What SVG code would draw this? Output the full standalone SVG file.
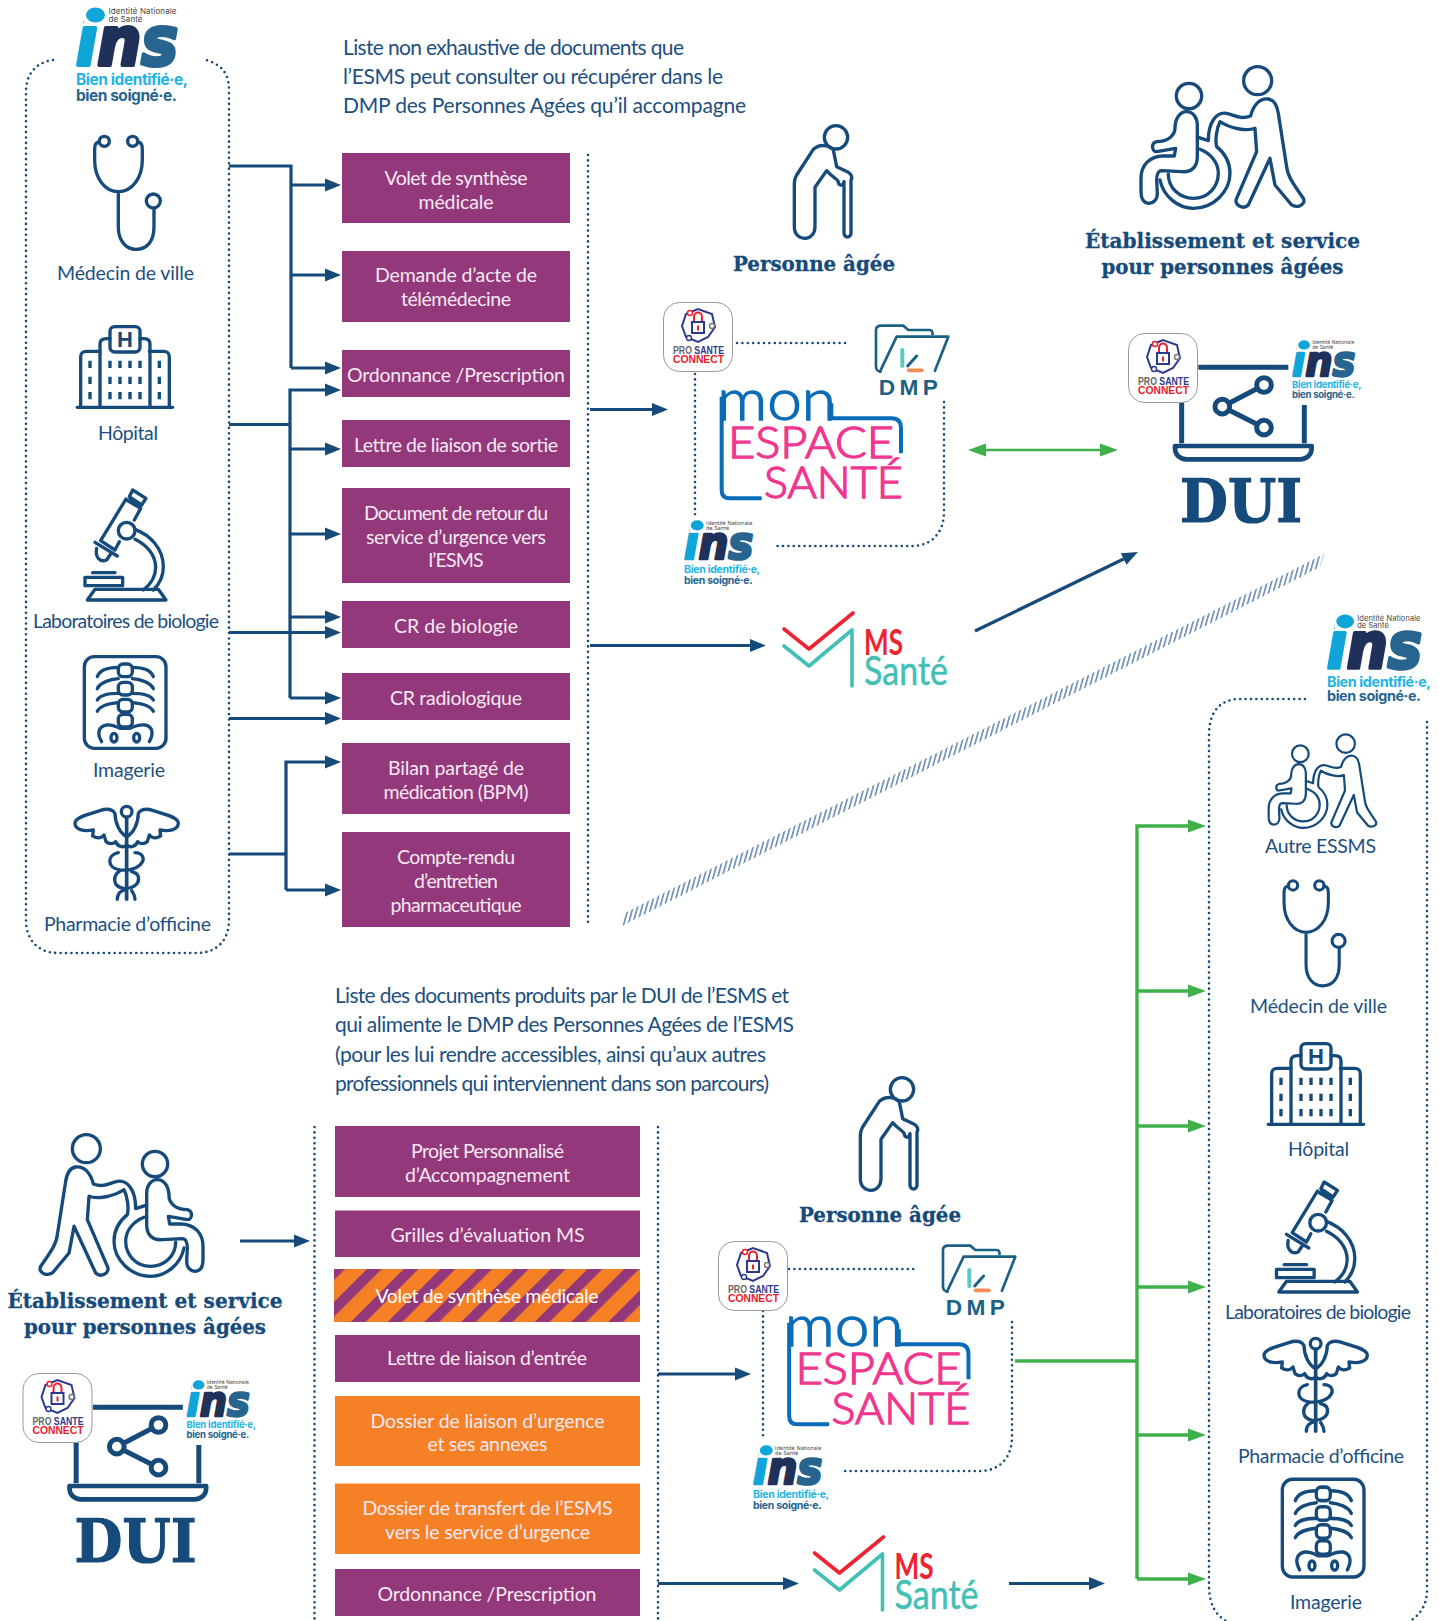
<svg xmlns="http://www.w3.org/2000/svg" xmlns:xlink="http://www.w3.org/1999/xlink" width="1439" height="1621" viewBox="0 0 1439 1621">
<style>
text{font-family:"Lato","Noto Sans",sans-serif}
.bg{fill:#fff}
.t{font-size:21px;fill:#1d4f80}
.l{font-size:19.5px;fill:#1d4f80;text-anchor:middle;transform:translateY(.4px)}
.b{font-size:19.5px;fill:#f6e9f3;text-anchor:middle}
.s{font-family:"DejaVu Serif",serif;font-weight:700;fill:#154a7a;text-anchor:middle;stroke:#154a7a;stroke-width:.3}
.pu{fill:#93387a}.or{fill:#f58026}
.i{fill:none;stroke:#154a7a;stroke-width:10;stroke-linecap:round;stroke-linejoin:round}
.d{fill:none;stroke:#154a7a;stroke-width:2.6;stroke-linecap:round;stroke-dasharray:0 5.4}
.c{fill:none;stroke:#154a7a;stroke-width:3.2}
.g{fill:none;stroke:#3fb14a;stroke-width:3.4}
</style>
<defs>
<marker id="ah" markerUnits="userSpaceOnUse" markerWidth="18" markerHeight="16" refX="0" refY="7" orient="auto"><path d="M0,0.5L16,7L0,13.5z" fill="#154a7a"/></marker>
<marker id="ag" markerUnits="userSpaceOnUse" markerWidth="20" markerHeight="16" refX="0" refY="7" orient="auto-start-reverse"><path d="M0,0.5L18,7L0,13.5z" fill="#3fb14a"/></marker>
<pattern id="stripes" patternUnits="userSpaceOnUse" x="12.8" width="26" height="26" patternTransform="rotate(45)"><rect width="26" height="26" fill="#f58026"/><rect x="0" width="10.5" height="26" fill="#93387a"/></pattern>
<pattern id="hatch" patternUnits="userSpaceOnUse" width="4.5" height="20" patternTransform="skewX(-15.4)"><rect x="0" width="1.7" height="20" fill="#6d8fb5"/></pattern>

<g id="ins">
<text x="76" y="65" font-size="68" textLength="102" lengthAdjust="spacingAndGlyphs" style="font-family:'DejaVu Sans',sans-serif;font-weight:700;font-style:oblique" stroke-width="4" stroke-linejoin="round"><tspan fill="#10a5d8" stroke="#10a5d8">i</tspan><tspan fill="#1f3158" stroke="#1f3158">n</tspan><tspan fill="#27648f" stroke="#27648f">s</tspan></text>
<rect x="84" y="0" width="24" height="25" fill="#fff"/>
<ellipse cx="95.500" cy="15" rx="9.500" ry="7.500" fill="#10a5d8"/>
<text x="108.500" y="14" font-size="8" fill="#444" style="font-family:Inter,sans-serif" textLength="68">Identité Nationale</text>
<text x="108.500" y="22" font-size="8" fill="#444" style="font-family:Inter,sans-serif" textLength="34">de Santé</text>
<text x="76" y="85" font-size="15.500" font-weight="700" fill="#1eb4e6" style="font-family:Inter,sans-serif" textLength="112">Bien identifié·e,</text>
<text x="76" y="101" font-size="15.500" font-weight="700" fill="#27648f" style="font-family:Inter,sans-serif" textLength="101">bien soigné·e.</text>
</g>

<g id="psc">
<rect x="0.500" y="0.500" width="69" height="69" rx="16" fill="#fff" stroke="#999" stroke-width="1"/>
<path d="M23,12L35,7L49,12L52,25L45,35L35,40L23,35L19,24Z" fill="none" stroke="#2b3a8c" stroke-width="2"/>
<rect x="29" y="20" width="12" height="11" fill="#fff" stroke="#2b3a8c" stroke-width="2"/>
<path d="M31,19V15C31,9 39,9 39,15V19" fill="none" stroke="#e8202e" stroke-width="2"/>
<rect x="34" y="23.500" width="2" height="5" fill="#e8202e"/>
<circle cx="27" cy="11" r="2.500" fill="#fff" stroke="#e8202e" stroke-width="1.400"/>
<circle cx="49" cy="24" r="2.500" fill="#fff" stroke="#777" stroke-width="1.400"/>
<circle cx="26" cy="36" r="2.500" fill="#fff" stroke="#2b3a8c" stroke-width="1.400"/>
<text x="10" y="52" font-size="10.500" font-weight="700" style="font-family:'Liberation Sans',sans-serif" textLength="51" lengthAdjust="spacingAndGlyphs"><tspan fill="#666">PRO </tspan><tspan fill="#2b3a8c">SANTE</tspan></text>
<text x="10" y="61" font-size="11.500" font-weight="700" fill="#e8202e" style="font-family:'Liberation Sans',sans-serif" textLength="51" lengthAdjust="spacingAndGlyphs">CONNECT</text>
</g>

<g id="dmp" transform="scale(.3333)">
<path d="M725,275C712,275 708,270 708,258V150C708,140 715,137 725,137H790L805,150H870C877,150 878,155 878,165" fill="none" stroke="#1b6184" stroke-width="8"/>
<path d="M720,275L770,170H925L885,272" fill="none" stroke="#1b6184" stroke-width="8" stroke-linejoin="round" stroke-linecap="round"/>
<path d="M787,210V258" stroke="#5cc8c4" stroke-width="12" stroke-linecap="round"/>
<path d="M803,258L830,228" stroke="#1b6184" stroke-width="9" stroke-linecap="round"/>
<path d="M806,271H846" stroke="#f58a52" stroke-width="11" stroke-linecap="round"/>
<text x="716" y="345" font-size="68" font-weight="700" fill="#1b6184" style="font-family:'Liberation Sans',sans-serif" textLength="178">DMP</text>
</g>

<g id="mes" transform="scale(.3333)">
<path d="M365,655H270C252,655 245,645 245,630V350M574,370V415H755C775,415 783,425 783,445V520" fill="none" stroke="#0a6cb8" stroke-width="12"/>
<text x="232" y="420" font-size="170" font-weight="300" fill="#0a6cb8" stroke="#0a6cb8" stroke-width="4" textLength="356" lengthAdjust="spacingAndGlyphs">mon</text>
<text x="264" y="535" font-size="130" font-weight="300" fill="#f0368f" stroke="#f0368f" stroke-width="4" textLength="498" lengthAdjust="spacingAndGlyphs">ESPACE</text>
<text x="372" y="655" font-size="128" font-weight="300" fill="#f0368f" stroke="#f0368f" stroke-width="4" textLength="416" lengthAdjust="spacingAndGlyphs">SANTÉ</text>
</g>

<g id="ms">
<path d="M784,629L809,649L853,613" fill="none" stroke="#ee2331" stroke-width="3.600" stroke-linecap="round" stroke-linejoin="round"/>
<path d="M784,646L809,666L852,630V686" fill="none" stroke="#43bfb5" stroke-width="3.600" stroke-linecap="round" stroke-linejoin="round"/>
<text x="864" y="655" font-size="36" fill="#ee2331" font-weight="700" textLength="39" lengthAdjust="spacingAndGlyphs">MS</text>
<text x="864" y="685" font-size="40" fill="#43bfb5" stroke="#43bfb5" stroke-width=".5" textLength="84" lengthAdjust="spacingAndGlyphs">Santé</text>
</g>

<g id="care" class="i">
<circle cx="447" cy="138" r="38"/><circle cx="653" cy="92" r="42"/>
<path d="M405,235C405,205 420,185 440,185C460,185 472,205 472,225V320C472,350 455,368 425,365L365,362C355,362 350,375 350,390L352,430C352,450 340,460 325,460C310,458 303,445 303,425V385C303,345 330,318 370,318H403L407,295L350,305C335,305 332,280 350,275C385,275 405,255 405,235Z"/>
<path d="M360,390C370,440 415,475 460,475C520,475 570,425 570,370C570,335 555,310 530,290C525,270 530,235 540,215C570,235 620,245 645,235L650,305L590,445C580,465 610,480 625,465L690,325L705,405L755,465C770,475 800,465 790,445C755,395 742,375 740,350L715,190C712,170 705,150 685,147C660,143 640,165 632,198C600,210 585,195 560,190C530,185 505,215 505,272L475,262"/>
<path d="M385,372C385,415 420,445 460,445C505,445 535,410 535,370C535,335 510,310 480,298"/>
</g>

<g id="elder" class="i">
<circle cx="198" cy="82" r="35"/>
<path d="M190,120C180,105 150,100 130,118L80,195C74,205 73,210 73,220V350C73,375 90,385 105,385C122,385 135,370 135,350V232L170,182C185,200 200,205 205,215C205,225 218,232 222,215V370C222,385 243,385 243,370V210C250,200 240,190 235,187L200,170Z"/>
</g>

<g id="dui">
<g class="i" style="stroke-width:15" transform="translate(1080,320) scale(.3333)">
<path d="M355,142H625M305,245V370M673,255V370" stroke-linecap="butt"/>
<path d="M285,378H695V385C695,405 680,418 660,418H320C300,418 285,405 285,385Z" style="stroke-width:14"/>
<path d="M427,260L552,195M427,260L552,323"/>
<circle cx="427" cy="260" r="22" fill="#fff"/><circle cx="552" cy="195" r="22" fill="#fff"/><circle cx="552" cy="323" r="22" fill="#fff"/>
</g>
<text class="s" x="1241" y="522" font-size="60" style="stroke-width:1.2" textLength="122" lengthAdjust="spacingAndGlyphs">DUI</text>
<use xlink:href="#psc" href="#psc" x="1128" y="333"/>
<use xlink:href="#ins" href="#ins" transform="translate(1292,340) scale(.62) translate(-76,-7)"/>
</g>

<g id="steth" class="i" transform="scale(.3333)">
<circle cx="313" cy="424" r="15"/><circle cx="398" cy="424" r="15"/><circle cx="460" cy="603" r="21"/>
<path d="M298,426C286,428 284,435 284,450V480C284,535 315,575 355,575C395,575 427,535 427,480V450C427,435 425,428 413,426M355,575V680C355,725 380,748 408,748C440,748 462,725 462,680V626"/>
</g>

<g id="hosp" class="i" transform="scale(.3333)">
<path d="M232,1222H518"/>
<path d="M242,1222V1072C242,1058 248,1054 260,1054H300M448,1054H490C502,1054 508,1058 508,1072V1222"/>
<path d="M300,1222V1032C300,1020 308,1016 320,1016H330M420,1016H432C444,1016 450,1020 450,1032V1222"/>
<rect x="330" y="980" width="90" height="76" rx="14"/>
<text x="375" y="1040" font-size="66" font-weight="900" fill="#154a7a" stroke="none" text-anchor="middle" style="font-family:'Liberation Sans',sans-serif">H</text>
<path d="M270,1082v22M270,1130v22M270,1176v22M330,1082v22M330,1130v22M330,1176v22M360,1082v22M360,1130v22M360,1176v22M390,1082v22M390,1130v22M390,1176v22M420,1082v22M420,1130v22M420,1176v22M478,1082v22M478,1130v22M478,1176v22" style="stroke-linecap:butt"/>
</g>

<g id="micro" class="i" transform="translate(0,480) scale(.3333)">
<path d="M378,57L302,182L345,210L358,185M380,60L422,85L403,120"/>
<path d="M398,30L438,55L425,75L388,50ZM390,55L420,80"/>
<path d="M285,187L352,228M290,205C285,232 300,248 320,240L332,222"/>
<circle cx="380" cy="152" r="25"/>
<path d="M405,148C450,165 490,205 490,260C490,290 475,315 460,330M405,178C440,195 467,225 467,262C467,290 450,315 430,330"/>
<path d="M262,360L285,328H475L498,360Z"/>
<rect x="255" y="292" width="113" height="25"/>
<path d="M278,278H345"/>
</g>

<g id="xray" class="i" transform="translate(0,480) scale(.3333)">
<rect x="253" y="530" width="245" height="275" rx="30"/>
<rect x="355" y="552" width="42" height="38" rx="14"/><rect x="355" y="607" width="42" height="38" rx="14"/><rect x="355" y="658" width="42" height="38" rx="14"/><rect x="355" y="703" width="42" height="38" rx="14"/>
<path d="M376,562V580M366,571H386M376,617V635M366,626H386M376,668V686M366,677H386M376,713V731M366,722H386" style="stroke:#fff;stroke-width:7"/>
<path d="M355,562C330,562 300,568 292,590M355,596C330,598 300,608 292,626M355,640C330,640 300,645 292,660M355,668C330,670 300,678 292,694"/>
<path d="M397,562C422,562 452,568 460,590M397,596C422,598 452,608 460,626M397,640C422,640 452,645 460,660M397,668C422,670 452,678 460,694"/>
<path d="M305,785C290,760 295,740 320,735C335,733 345,738 360,745H390C405,738 420,733 435,735C458,740 462,760 448,785"/>
<ellipse cx="342" cy="773" rx="9" ry="13"/><ellipse cx="410" cy="773" rx="9" ry="13"/>
</g>

<g id="cadu" class="i" transform="translate(0,480) scale(.3333)">
<circle cx="380" cy="995" r="16"/><path d="M380,1015V1258" style="stroke-width:11"/>
<path d="M345,1000C335,985 320,985 300,992C270,1003 225,1010 225,1030C225,1048 250,1056 280,1050L278,1068C290,1076 305,1076 312,1065L318,1085C328,1093 340,1092 347,1085C352,1100 370,1105 380,1095M345,1000C345,1030 360,1060 380,1070"/>
<path d="M415,1000C425,985 440,985 460,992C490,1003 535,1010 535,1030C535,1048 510,1056 480,1050L482,1068C470,1076 455,1076 448,1065L442,1085C432,1093 420,1092 413,1085C408,1100 390,1105 380,1095M415,1000C415,1030 400,1060 380,1070"/>
<path d="M355,1118C320,1125 320,1165 360,1170C380,1172 400,1172 420,1155C440,1135 425,1118 405,1118"/>
<path d="M360,1172C335,1190 340,1220 370,1225C395,1228 420,1215 415,1190C412,1180 405,1178 395,1175"/>
<path d="M352,1258C352,1240 365,1230 380,1228M405,1258C405,1245 400,1240 395,1232"/>
</g>
</defs>

<rect class="bg" width="1439" height="1621"/>

<g id="connectors">
<path class="d" d="M53,60C38,62 26,72 26,92V920C26,940 38,953 58,953H197C217,953 229,940 229,920V90C229,72 220,64 206,60"/>
<path class="d" d="M588,155V927"/>
<path class="d" d="M314.500,1127V1621"/>
<path class="d" d="M658,1127V1621"/>
<path class="d" d="M737,343H850"/>
<path class="d" d="M695,374V515"/>
<path class="d" d="M944,402V512C944,532 932,546 912,546H773"/>
<path class="d" d="M789,1269H918"/>
<path class="d" d="M763,1311V1440"/>
<path class="d" d="M1012,1322V1437C1012,1457 1000,1471 980,1471H842"/>
<path class="d" d="M1305,699H1240C1220,699 1209,712 1209,735V1585C1209,1605 1216,1615 1226,1621"/>
<path class="d" d="M1427,722V1590C1427,1605 1420,1615 1410,1621"/>

<path class="c" d="M229,166H291V368"/>
<path class="c" d="M291,185H325" marker-end="url(#ah)"/>
<path class="c" d="M291,275H325" marker-end="url(#ah)"/>
<path class="c" d="M291,368H325" marker-end="url(#ah)"/>
<path class="c" d="M229,424.500H290"/>
<path class="c" d="M290,698V390H325" marker-end="url(#ah)"/>
<path class="c" d="M290,449H325" marker-end="url(#ah)"/>
<path class="c" d="M290,534H325" marker-end="url(#ah)"/>
<path class="c" d="M290,617H325" marker-end="url(#ah)"/>
<path class="c" d="M290,698H325" marker-end="url(#ah)"/>
<path class="c" d="M229,632.500H325" marker-end="url(#ah)"/>
<path class="c" d="M229,718.500H325" marker-end="url(#ah)"/>
<path class="c" d="M229,854H286"/>
<path class="c" d="M286,890V762H325" marker-end="url(#ah)"/>
<path class="c" d="M286,890H325" marker-end="url(#ah)"/>
<path class="c" d="M590,409.500H652" marker-end="url(#ah)"/>
<path class="c" d="M590,645.500H750" marker-end="url(#ah)"/>
<path class="c" d="M975,631L1123.600,559" marker-end="url(#ah)"/>
<path class="g" style="stroke-width:2.6" d="M986,450H1100" marker-start="url(#ag)" marker-end="url(#ag)"/>
<path class="c" d="M240,1241H294" marker-end="url(#ah)"/>
<path class="c" d="M658,1374H735" marker-end="url(#ah)"/>
<path class="c" d="M658,1583.500H783" marker-end="url(#ah)"/>
<path class="c" d="M1009,1583.500H1089" marker-end="url(#ah)"/>
<path class="g" d="M1015,1361H1137"/>
<path class="g" d="M1137,1579V826H1188" marker-end="url(#ag)"/>
<path class="g" d="M1137,1579H1188" marker-end="url(#ag)"/>
<path class="g" d="M1137,991H1188" marker-end="url(#ag)"/>
<path class="g" d="M1137,1126H1188" marker-end="url(#ag)"/>
<path class="g" d="M1137,1287H1188" marker-end="url(#ag)"/>
<path class="g" d="M1137,1435H1188" marker-end="url(#ag)"/>
<polygon id="separator" points="620,927 623,914 1324,554 1320,567" fill="url(#hatch)"/>
</g>

<g id="title-top"><text class="t" x="343" y="55" textLength="341">Liste non exhaustive de documents que</text><text class="t" x="343" y="84" textLength="380">l’ESMS peut consulter ou récupérer dans le</text><text class="t" x="343" y="113" textLength="403">DMP des Personnes Agées qu’il accompagne</text></g>
<g id="title-bottom"><text class="t" x="335" y="1003" textLength="454">Liste des documents produits par le DUI de l’ESMS et</text><text class="t" x="335" y="1032" textLength="459">qui alimente le DMP des Personnes Agées de l’ESMS</text><text class="t" x="335" y="1062" textLength="431">(pour les lui rendre accessibles, ainsi qu’aux autres</text><text class="t" x="335" y="1091" textLength="434">professionnels qui interviennent dans son parcours)</text></g>

<g id="ins-left"><use href="#ins" xlink:href="#ins"/></g>
<g id="medecin-left"><use href="#steth" xlink:href="#steth"/><text class="l" x="125.500" y="280" textLength="137">Médecin de ville</text></g>
<g id="hopital-left"><use href="#hosp" xlink:href="#hosp"/><text class="l" x="128" y="440" textLength="60">Hôpital</text></g>
<g id="labo-left"><use href="#micro" xlink:href="#micro"/><text class="l" x="126" y="628" textLength="186">Laboratoires de biologie</text></g>
<g id="imagerie-left"><use href="#xray" xlink:href="#xray"/><text class="l" x="129" y="777" textLength="72">Imagerie</text></g>
<g id="pharmacie-left"><use href="#cadu" xlink:href="#cadu"/><text class="l" x="127.500" y="931" textLength="167">Pharmacie d’officine</text></g>

<g id="doc-volet"><rect class="pu" x="342" y="153" width="228" height="70"/><text class="b" x="456" y="185" textLength="143">Volet de synthèse</text><text class="b" x="456" y="209" textLength="75">médicale</text></g>
<g id="doc-demande"><rect class="pu" x="342" y="251" width="228" height="71"/><text class="b" x="456" y="282" textLength="162">Demande d’acte de</text><text class="b" x="456" y="306" textLength="110">télémédecine</text></g>
<g id="doc-ordo"><rect class="pu" x="342" y="350" width="228" height="47"/><text class="b" x="456" y="382" textLength="218">Ordonnance /Prescription</text></g>
<g id="doc-lettre"><rect class="pu" x="342" y="420" width="228" height="47"/><text class="b" x="456" y="451.500" textLength="204">Lettre de liaison de sortie</text></g>
<g id="doc-retour"><rect class="pu" x="342" y="488" width="228" height="95"/><text class="b" x="456" y="520" textLength="184">Document de retour du</text><text class="b" x="456" y="543.500" textLength="180">service d’urgence vers</text><text class="b" x="456" y="567" textLength="55">l’ESMS</text></g>
<g id="doc-bio"><rect class="pu" x="342" y="601" width="228" height="47"/><text class="b" x="456" y="632.500" textLength="124">CR de biologie</text></g>
<g id="doc-radio"><rect class="pu" x="342" y="673" width="228" height="47"/><text class="b" x="456" y="705" textLength="132">CR radiologique</text></g>
<g id="doc-bilan"><rect class="pu" x="342" y="743" width="228" height="71"/><text class="b" x="456" y="775" textLength="136">Bilan partagé de</text><text class="b" x="456" y="799" textLength="145">médication (BPM)</text></g>
<g id="doc-compte"><rect class="pu" x="342" y="832" width="228" height="95"/><text class="b" x="456" y="864" textLength="118">Compte-rendu</text><text class="b" x="456" y="888" textLength="84">d’entretien</text><text class="b" x="456" y="912" textLength="131">pharmaceutique</text></g>

<g id="personne-top"><use href="#elder" xlink:href="#elder" transform="translate(770,110) scale(.3333)"/><text class="s" x="814" y="271" font-size="21" textLength="162" lengthAdjust="spacingAndGlyphs">Personne âgée</text></g>
<g id="esms-top"><use href="#care" xlink:href="#care" transform="translate(1040,50) scale(.3333)"/><text class="s" x="1222.500" y="248" font-size="21" textLength="275" lengthAdjust="spacingAndGlyphs">Établissement et service</text><text class="s" x="1222.500" y="274" font-size="21" textLength="242" lengthAdjust="spacingAndGlyphs">pour personnes âgées</text></g>
<g id="mon-espace-top"><use href="#mes" xlink:href="#mes" transform="translate(640,280)"/><use href="#dmp" xlink:href="#dmp" transform="translate(640,280)"/><use href="#psc" xlink:href="#psc" x="663" y="302"/><use href="#ins" xlink:href="#ins" transform="translate(684,520) scale(.68) translate(-76,-7)"/></g>
<g id="ms-top"><use href="#ms" xlink:href="#ms"/></g>
<g id="dui-top"><use href="#dui" xlink:href="#dui"/></g>

<g id="ins-right"><use href="#ins" xlink:href="#ins" transform="translate(1327,614) scale(.93) translate(-76,-7)"/></g>
<g id="esms-right"><use href="#care" xlink:href="#care" transform="translate(1268,734) scale(.22) translate(-300,-48)"/><text class="l" x="1320.500" y="853" textLength="111">Autre ESSMS</text></g>
<g id="medecin-right"><use href="#steth" xlink:href="#steth" transform="translate(1196,754) scale(.93)"/><text class="l" x="1318.500" y="1013" textLength="137">Médecin de ville</text></g>
<g id="hopital-right"><use href="#hosp" xlink:href="#hosp" transform="translate(1191,717)"/><text class="l" x="1318.500" y="1156" textLength="61">Hôpital</text></g>
<g id="labo-right"><use href="#micro" xlink:href="#micro" transform="translate(1191.500,692)"/><text class="l" x="1318" y="1319" textLength="186">Laboratoires de biologie</text></g>
<g id="pharmacie-right"><use href="#cadu" xlink:href="#cadu" transform="translate(1189,532)"/><text class="l" x="1321" y="1463" textLength="166">Pharmacie d’officine</text></g>
<g id="imagerie-right"><use href="#xray" xlink:href="#xray" transform="translate(1198,780) scale(1,1.065)"/><text class="l" x="1326" y="1609" textLength="72">Imagerie</text></g>

<g id="esms-left"><use href="#care" xlink:href="#care" transform="translate(304,1118) scale(-.3333,.3333)"/><text class="s" x="145" y="1308" font-size="21" textLength="275" lengthAdjust="spacingAndGlyphs">Établissement et service</text><text class="s" x="145" y="1334" font-size="21" textLength="242" lengthAdjust="spacingAndGlyphs">pour personnes âgées</text></g>
<g id="dui-bottom"><use href="#dui" xlink:href="#dui" transform="translate(-1105.500,1040)"/></g>

<g id="doc2-projet"><rect class="pu" x="335" y="1126" width="305" height="71"/><text class="b" x="487.500" y="1158" textLength="153">Projet Personnalisé</text><text class="b" x="487.500" y="1181.500" textLength="165">d’Accompagnement</text></g>
<g id="doc2-grilles"><rect class="pu" x="335" y="1210.500" width="305" height="46.500"/><text class="b" x="487.500" y="1241.500" textLength="194">Grilles d’évaluation MS</text></g>
<g id="doc2-volet"><rect fill="url(#stripes)" x="334" y="1269" width="306" height="53"/><text class="b" x="487" y="1303" textLength="223" style="fill:#fff">Volet de synthèse médicale</text></g>
<g id="doc2-lettre"><rect class="pu" x="335" y="1335" width="305" height="47"/><text class="b" x="487" y="1365" textLength="200">Lettre de liaison d’entrée</text></g>
<g id="doc2-liaison"><rect class="or" x="335" y="1396" width="305" height="70"/><text class="b" x="487.500" y="1427.500" textLength="234">Dossier de liaison d’urgence</text><text class="b" x="487.500" y="1451" textLength="120">et ses annexes</text></g>
<g id="doc2-transfert"><rect class="or" x="335" y="1483.500" width="305" height="70.500"/><text class="b" x="487.500" y="1515" textLength="250">Dossier de transfert de l’ESMS</text><text class="b" x="487.500" y="1539" textLength="205">vers le service d’urgence</text></g>
<g id="doc2-ordo"><rect class="pu" x="335" y="1569" width="305" height="47"/><text class="b" x="487" y="1601" textLength="219">Ordonnance /Prescription</text></g>

<g id="personne-bottom"><use href="#elder" xlink:href="#elder" transform="translate(836,1062) scale(.3333)"/><text class="s" x="880" y="1222" font-size="21" textLength="162" lengthAdjust="spacingAndGlyphs">Personne âgée</text></g>
<g id="mon-espace-bottom"><use href="#mes" xlink:href="#mes" transform="translate(707.500,1206)"/><use href="#dmp" xlink:href="#dmp" transform="translate(707,1200)"/><use href="#psc" xlink:href="#psc" x="718" y="1241"/><use href="#ins" xlink:href="#ins" transform="translate(753,1445) scale(.68) translate(-76,-7)"/></g>
<g id="ms-bottom"><use href="#ms" xlink:href="#ms" transform="translate(30.500,924)"/></g>
</svg>
